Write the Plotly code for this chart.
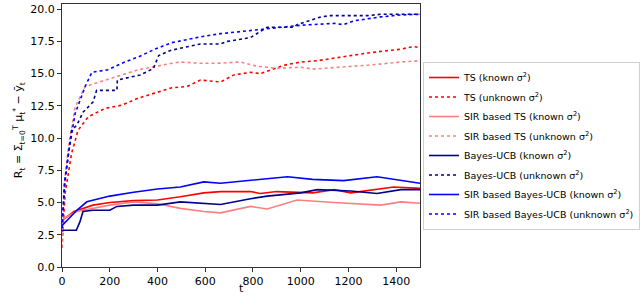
import plotly.graph_objects as go

# ---- data ----
t_ts_known = [0, 20, 50, 130, 200, 300, 400, 496, 594, 664, 790, 830, 900, 1050, 1140, 1210, 1320, 1390, 1500]
ts_known = [3.6, 3.9, 4.3, 4.8, 5.0, 5.15, 5.2, 5.45, 5.75, 5.85, 5.85, 5.7, 5.85, 5.75, 6.0, 5.75, 6.05, 6.2, 6.1]

t_ts_unknown = [0, 13, 40, 67, 110, 180, 250, 320, 390, 460, 524, 580, 664, 720, 790, 830, 930, 1000, 1070, 1140, 1280, 1420, 1475, 1500]
ts_unknown = [1.5, 5.7, 8.8, 10.6, 11.65, 12.3, 12.55, 13.1, 13.5, 13.9, 14.0, 14.5, 14.35, 14.9, 15.1, 15.0, 15.65, 15.9, 16.0, 16.2, 16.6, 16.9, 17.1, 17.0]

t_sir_ts_known = [0, 20, 62, 130, 200, 300, 400, 496, 594, 664, 790, 860, 985, 1140, 1335, 1420, 1500]
sir_ts_known = [3.6, 3.9, 4.3, 4.55, 4.8, 5.05, 4.9, 4.55, 4.3, 4.2, 4.7, 4.5, 5.2, 5.0, 4.8, 5.05, 4.95]

t_sir_ts_unknown = [0, 10, 27, 55, 97, 180, 320, 460, 496, 580, 650, 748, 810, 900, 1000, 1050, 1140, 1280, 1420, 1500]
sir_ts_unknown = [1.5, 6.5, 9.3, 12.4, 14.0, 14.5, 15.3, 15.8, 15.9, 15.8, 15.8, 15.9, 15.6, 15.4, 15.5, 15.35, 15.45, 15.65, 15.9, 16.0]

t_ucb_known = [0, 10, 60, 75, 88, 130, 200, 230, 300, 400, 496, 594, 664, 790, 860, 1000, 1070, 1210, 1320, 1420, 1500]
ucb_known = [2.8, 2.85, 2.85, 3.5, 4.3, 4.4, 4.4, 4.7, 4.8, 4.8, 5.05, 4.9, 4.85, 5.3, 5.5, 5.75, 6.0, 5.9, 5.7, 6.0, 6.0]

t_ucb_unknown = [0, 13, 40, 62, 88, 130, 145, 230, 232, 328, 383, 405, 454, 580, 664, 693, 790, 860, 970, 985, 1085, 1125, 1280, 1335, 1500]
ucb_unknown = [3.0, 6.7, 10.6, 11.0, 12.0, 12.8, 13.7, 13.7, 14.5, 14.9, 15.4, 16.4, 16.8, 17.3, 17.3, 17.5, 17.8, 18.6, 18.6, 18.8, 19.4, 19.5, 19.5, 19.6, 19.6]

t_sir_ucb_known = [0, 20, 62, 104, 200, 300, 400, 496, 594, 664, 790, 945, 1050, 1180, 1320, 1420, 1500]
sir_ucb_known = [3.2, 3.6, 4.4, 5.06, 5.5, 5.8, 6.05, 6.2, 6.6, 6.5, 6.7, 7.0, 6.8, 6.7, 7.0, 6.75, 6.5]

t_sir_ucb_unknown = [0, 10, 27, 55, 97, 125, 192, 250, 320, 390, 460, 580, 664, 720, 860, 1000, 1140, 1180, 1225, 1335, 1420, 1500]
sir_ucb_unknown = [3.0, 6.5, 8.8, 11.9, 14.0, 15.1, 15.3, 15.8, 16.3, 16.9, 17.4, 17.85, 18.1, 18.2, 18.5, 18.75, 18.9, 18.8, 19.1, 19.4, 19.55, 19.6]

series = [
    ("TS (known σ<sup>2</sup>)", t_ts_known, ts_known, "#ff0000", "solid"),
    ("TS (unknown σ<sup>2</sup>)", t_ts_unknown, ts_unknown, "#ff0000", "dot"),
    ("SIR based TS (known σ<sup>2</sup>)", t_sir_ts_known, sir_ts_known, "#fa8080", "solid"),
    ("SIR based TS (unknown σ<sup>2</sup>)", t_sir_ts_unknown, sir_ts_unknown, "#fa8080", "dot"),
    ("Bayes-UCB (known σ<sup>2</sup>)", t_ucb_known, ucb_known, "#00008b", "solid"),
    ("Bayes-UCB (unknown σ<sup>2</sup>)", t_ucb_unknown, ucb_unknown, "#00008b", "dot"),
    ("SIR based Bayes-UCB (known σ<sup>2</sup>)", t_sir_ucb_known, sir_ucb_known, "#0000ff", "solid"),
    ("SIR based Bayes-UCB (unknown σ<sup>2</sup>)", t_sir_ucb_unknown, sir_ucb_unknown, "#0000ff", "dot"),
]

x_ticks = [0, 200, 400, 600, 800, 1000, 1200, 1400]
y_ticks = [0, 2.5, 5, 7.5, 10, 12.5, 15, 17.5, 20]

fig = go.Figure()
for i, (name, xs, ys, color, dash) in enumerate(series):
    fig.add_trace(go.Scatter(x=xs, y=ys, mode="lines", name=name, legendgroup=f"g{i}",
                             line=dict(color=color, dash=dash, width=1.6)))

axis_common = dict(showline=True, linecolor="#333333", linewidth=1.2, mirror=True,
                   ticks="outside", ticklen=4, tickcolor="#333333", showgrid=False,
                   zeroline=False, automargin=False, tickfont=dict(size=11, color="black"))

fig.update_layout(
    width=640, height=296,
    margin=dict(l=62, r=220, t=4, b=29, autoexpand=False),
    plot_bgcolor="white", paper_bgcolor="white",
    font=dict(family="DejaVu Sans", size=11, color="black"),
    xaxis=dict(range=[0, 1500], tickvals=x_ticks, **axis_common),
    yaxis=dict(range=[0, 20.4], tickvals=y_ticks, tickformat=".1f", **axis_common),
    legend=dict(x=423 / 640, y=1 - 62 / 296, xref="container", yref="container",
                xanchor="left", yanchor="top", maxheight=200,
                bordercolor="#d0d0d0", borderwidth=1, bgcolor="white",
                font=dict(size=9.5), tracegroupgap=0.5, itemwidth=30),
    showlegend=True,
    annotations=[
        dict(text="t", xref="paper", yref="paper", x=0.5, y=0, yshift=-21,
             xanchor="center", yanchor="middle", showarrow=False, font=dict(size=11)),
        dict(text="R<sub>t</sub> = Σ<sub>t=0</sub><sup>T</sup> μ<sub>t</sub><sup>*</sup> − ȳ<sub>t</sub>",
             xref="paper", yref="paper", x=0, xshift=-43, y=0.52, textangle=-90,
             xanchor="center", yanchor="middle", showarrow=False, font=dict(size=11)),
    ],
)

fig.write_html("out.html", post_script="document.body.style.margin='0';",
               config={"displayModeBar": False})
